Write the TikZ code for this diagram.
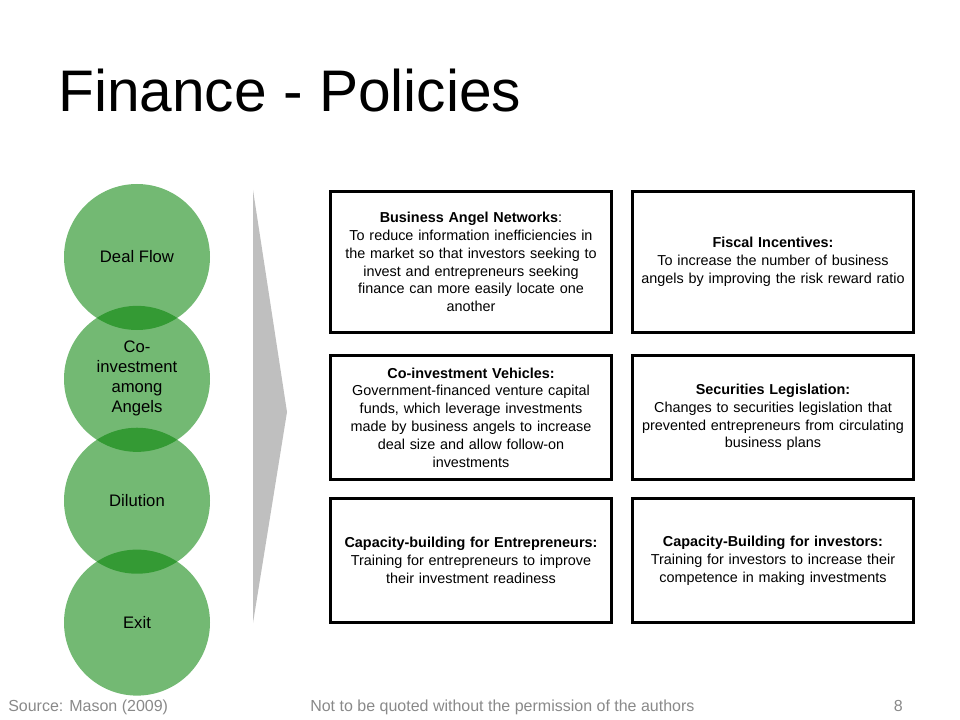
\documentclass[tikz,border=0pt]{standalone}
\usepackage{fontspec}
\setmainfont{Liberation Sans}
\usetikzlibrary{positioning}

\definecolor{stagegreen}{RGB}{0,128,0}
\definecolor{chevrongray}{RGB}{191,191,191}
\definecolor{footgray}{RGB}{137,137,137}

\tikzset{
  stage/.style={circle,fill=stagegreen,fill opacity=0.55,text opacity=1,
    minimum size=109.5pt,inner sep=0pt,align=center,
    font=\fontsize{12.5}{15}\selectfont},
  policy/.style={draw,rectangle,line width=2pt,minimum width=211pt,
    text width=205pt,inner sep=0pt,align=center,
    font=\fontsize{10.8}{13.35}\selectfont},
  footer/.style={text=footgray,inner sep=0pt,font=\fontsize{12}{14}\selectfont}
}

\begin{document}
\begin{tikzpicture}[x=0.75pt,y=-0.75pt]

  \useasboundingbox (0,0) rectangle (960,720);

  \node [anchor=base west,inner sep=0pt,font=\fontsize{44}{50}\selectfont] (title) at (58,112) {Finance - Policies};

  % stages
  \node [stage] (deal) at (137,257) {Deal Flow};
  \node [stage,below=-18.5pt of deal] (coinv) {Co-\\investment\\among\\Angels};
  \node [stage,below=-18.5pt of coinv] (dilution) {Dilution};
  \node [stage,below=-18.5pt of dilution] (exit) {Exit};

  \fill [chevrongray] (253,190) -- (287,412) -- (253,623) -- cycle;

  % policies
  \node [policy,minimum height=106pt] (networks) at (471,262)
    {\textbf{Business Angel Networks}:\\
     To reduce information inefficiencies in\\
     the market so that investors seeking to\\
     invest and entrepreneurs seeking\\
     finance can more easily locate one\\
     another};
  \node [policy,minimum height=106pt,right=13.5pt of networks] (fiscal)
    {\textbf{Fiscal Incentives:}\\
     To increase the number of business\\
     angels by improving the risk reward ratio};
  \node [policy,minimum height=93.25pt,below=15pt of networks] (vehicles)
    {\textbf{Co-investment Vehicles:}\\
     Government-financed venture capital\\
     funds, which leverage investments\\
     made by business angels to increase\\
     deal size and allow follow-on\\
     investments};
  \node [policy,minimum height=93.25pt,below=15pt of fiscal] (securities)
    {\textbf{Securities Legislation:}\\
     Changes to securities legislation that\\
     prevented entrepreneurs from circulating\\
     business plans};
  \node [policy,minimum height=93.25pt,below=12pt of vehicles] (entrepreneurs)
    {\textbf{Capacity-building for Entrepreneurs:}\\
     Training for entrepreneurs to improve\\
     their investment readiness};
  \node [policy,minimum height=93.25pt,below=12pt of securities] (investors)
    {\textbf{Capacity-Building for investors:}\\
     Training for investors to increase their\\
     competence in making investments};

  % footer
  \node [footer,anchor=base west] (source) at (8,711) {Source: Mason (2009)};
  \node [footer,anchor=base west] (notice) at (310,711) {Not to be quoted without the permission of the authors};
  \node [footer,anchor=base east] (page) at (903,711) {8};

\end{tikzpicture}
\end{document}
